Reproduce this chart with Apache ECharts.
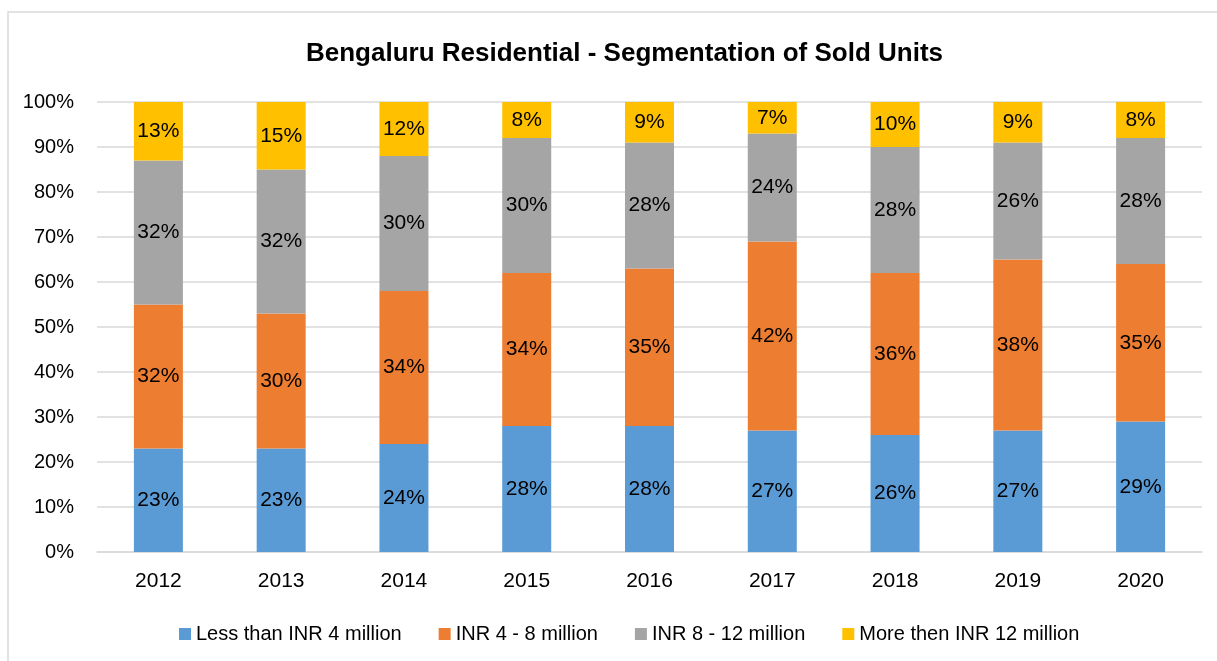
<!DOCTYPE html>
<html>
<head>
<meta charset="utf-8">
<script src="https://cdn.jsdelivr.net/npm/echarts@6/dist/echarts.min.js"></script>
<style>
  html, body { margin: 0; padding: 0; background: #fff; }
  #chart { width: 1217px; height: 661px; }
</style>
</head>
<body>
<div id="chart"></div>
<script>
var years = ['2012', '2013', '2014', '2015', '2016', '2017', '2018', '2019', '2020'];
var lessThan4 = [23, 23, 24, 28, 28, 27, 26, 27, 29];
var from4to8 = [32, 30, 34, 34, 35, 42, 36, 38, 35];
var from8to12 = [32, 32, 30, 30, 28, 24, 28, 26, 28];
var moreThan12 = [13, 15, 12, 8, 9, 7, 10, 9, 8];
var seriesNames = ['Less than INR 4 million', 'INR 4 - 8 million', 'INR 8 - 12 million', 'More then INR 12 million'];
var colors = ['#5b9bd5', '#ed7d31', '#a5a5a5', '#ffc000'];

var font = "'Liberation Sans', Arial, sans-serif";

var myChart = echarts.init(document.getElementById('chart'));

function makeSeries(name, data, color) {
    return {
        name: name,
        type: 'bar',
        stack: 'total',
        barWidth: 49,
        data: data,
        itemStyle: { color: color },
        label: {
            show: true,
            position: 'inside',
            formatter: '{c}%',
            color: '#000',
            fontSize: 21,
            fontFamily: font
        }
    };
}

var option = {
    backgroundColor: '#fff',
    animation: false,
    color: colors,
    title: {
        text: 'Bengaluru Residential - Segmentation of Sold Units',
        left: 301,
        top: 36,
        textStyle: {
            fontFamily: font,
            fontWeight: 'bold',
            fontSize: 26,
            color: '#000'
        }
    },
    graphic: [{
        type: 'rect',
        shape: { x: 8, y: 12, width: 1300, height: 700 },
        style: { fill: 'none', stroke: '#d9d9d9', lineWidth: 1.5 },
        silent: true
    }],
    legend: {
        data: seriesNames,
        bottom: 12,
        left: 174,
        itemWidth: 12,
        itemHeight: 12,
        itemGap: 37,
        icon: 'rect',
        textStyle: {
            fontFamily: font,
            fontSize: 20,
            color: '#000'
        }
    },
    grid: {
        left: 97,
        right: 15,
        top: 102,
        bottom: 109
    },
    xAxis: {
        type: 'category',
        data: years,
        axisLine: { lineStyle: { color: '#d9d9d9', width: 1.5 } },
        axisTick: { show: false },
        axisLabel: {
            margin: 19,
            color: '#000',
            fontSize: 21,
            fontFamily: font
        }
    },
    yAxis: {
        type: 'value',
        min: 0,
        max: 100,
        interval: 10,
        axisLine: { show: false },
        axisTick: { show: false },
        splitLine: { lineStyle: { color: '#d9d9d9', width: 1.5 } },
        axisLabel: {
            formatter: '{value}%',
            margin: 23,
            color: '#000',
            fontSize: 20,
            fontFamily: font
        }
    },
    series: [
        makeSeries(seriesNames[0], lessThan4, colors[0]),
        makeSeries(seriesNames[1], from4to8, colors[1]),
        makeSeries(seriesNames[2], from8to12, colors[2]),
        makeSeries(seriesNames[3], moreThan12, colors[3])
    ]
};
myChart.setOption(option);
</script>
</body>
</html>
